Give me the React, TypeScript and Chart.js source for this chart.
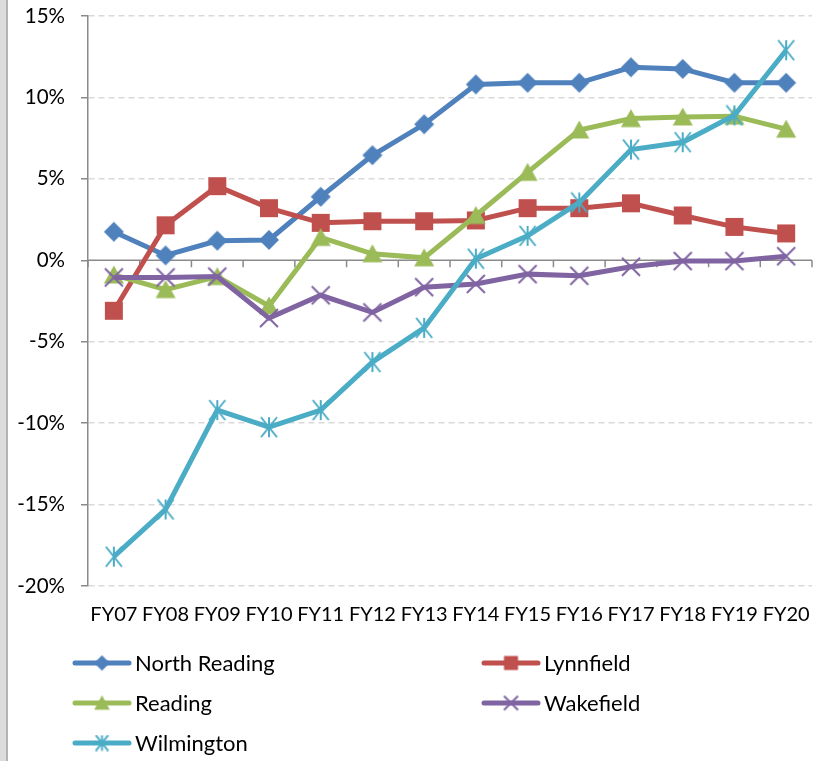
import React, { useEffect, useRef } from "react";
import { Chart, registerables } from "chart.js";

Chart.register(...registerables);

const categories = ["FY07", "FY08", "FY09", "FY10", "FY11", "FY12", "FY13", "FY14", "FY15", "FY16", "FY17", "FY18", "FY19", "FY20"];
const northReading = [1.75, 0.3, 1.2, 1.25, 3.9, 6.45, 8.35, 10.8, 10.9, 10.9, 11.85, 11.75, 10.9, 10.9];
const lynnfield = [-3.1, 2.15, 4.55, 3.2, 2.3, 2.4, 2.4, 2.45, 3.2, 3.2, 3.5, 2.75, 2.05, 1.65];
const reading = [-0.9, -1.8, -1.0, -2.8, 1.4, 0.4, 0.15, 2.75, 5.4, 8.0, 8.7, 8.8, 8.85, 8.05];
const wakefield = [-1.05, -1.05, -1.0, -3.55, -2.15, -3.2, -1.65, -1.45, -0.85, -0.95, -0.4, -0.05, -0.05, 0.25];
const wilmington = [-18.2, -15.3, -9.2, -10.25, -9.2, -6.25, -4.15, 0.1, 1.5, 3.55, 6.8, 7.25, 8.9, 12.9];
const seriesNames = ["North Reading", "Lynnfield", "Reading", "Wakefield", "Wilmington"];
const yTicks = [-20, -15, -10, -5, 0, 5, 10, 15];

const colors = ["#4F81BD", "#C0504D", "#9BBB59", "#8064A2", "#4BACC6"];
const markerTypes = ["diamond", "square", "triangle", "x", "asterisk"];

function makeMarker(type: string, color: string, scale: number): HTMLCanvasElement {
  const c = document.createElement("canvas");
  const s = Math.round(22 * scale);
  c.width = s;
  c.height = s;
  const ctx = c.getContext("2d")!;
  const m = s / 2;
  ctx.fillStyle = color;
  ctx.strokeStyle = color;
  ctx.lineWidth = 2;
  if (type === "diamond") {
    const r = 10 * scale;
    ctx.beginPath();
    ctx.moveTo(m, m - r);
    ctx.lineTo(m + r, m);
    ctx.lineTo(m, m + r);
    ctx.lineTo(m - r, m);
    ctx.closePath();
    ctx.fill();
  } else if (type === "square") {
    const r = 9 * scale;
    ctx.fillRect(m - r, m - r, 2 * r, 2 * r);
  } else if (type === "triangle") {
    const w = 10 * scale;
    const h = 8.5 * scale;
    ctx.beginPath();
    ctx.moveTo(m, m - h - 1);
    ctx.lineTo(m + w, m + h);
    ctx.lineTo(m - w, m + h);
    ctx.closePath();
    ctx.fill();
  } else if (type === "x") {
    const r = 9 * scale;
    ctx.beginPath();
    ctx.moveTo(m - r, m - r);
    ctx.lineTo(m + r, m + r);
    ctx.moveTo(m + r, m - r);
    ctx.lineTo(m - r, m + r);
    ctx.stroke();
  } else {
    const rx = 8 * scale;
    const ry = 10 * scale;
    ctx.beginPath();
    ctx.moveTo(m - rx, m - ry);
    ctx.lineTo(m + rx, m + ry);
    ctx.moveTo(m + rx, m - ry);
    ctx.lineTo(m - rx, m + ry);
    ctx.moveTo(m, m - ry);
    ctx.lineTo(m, m + ry);
    ctx.stroke();
  }
  return c;
}

const FONT = "Lato, 'Open Sans', sans-serif";

export default function App() {
  const ref = useRef<HTMLCanvasElement | null>(null);

  useEffect(() => {
    const canvas = ref.current!;
    const values = [northReading, lynnfield, reading, wakefield, wilmington];
    const pointImgs = markerTypes.map((t, i) => makeMarker(t, colors[i], 1));
    const legendImgs = markerTypes.map((t, i) => makeMarker(t, colors[i], 0.78));

    const zeroAxis = {
      id: "zeroAxis",
      beforeDatasetsDraw(chart: any) {
        const { ctx, chartArea } = chart;
        const y = chart.scales.y.getPixelForValue(0);
        ctx.save();
        ctx.strokeStyle = "#8a8a8a";
        ctx.lineWidth = 1.5;
        ctx.beginPath();
        ctx.moveTo(chartArea.left, y);
        ctx.lineTo(chartArea.right, y);
        const n = categories.length;
        const w = (chartArea.right - chartArea.left) / n;
        for (let i = 0; i <= n; i++) {
          const x = chartArea.left + i * w;
          ctx.moveTo(x, y);
          ctx.lineTo(x, y + 7);
        }
        ctx.stroke();
        ctx.restore();
      },
    };

    const legendPlugin = {
      id: "customLegend",
      afterDraw(chart: any) {
        const { ctx, chartArea } = chart;
        ctx.save();
        ctx.font = `22px ${FONT}`;
        ctx.textBaseline = "middle";
        ctx.fillStyle = "#000";
        seriesNames.forEach((name, i) => {
          const col = i % 2;
          const row = Math.floor(i / 2);
          const x0 = col === 0 ? chartArea.left - 13 : chartArea.left + 396;
          const y = chartArea.bottom + 77 + row * 40;
          ctx.strokeStyle = colors[i];
          ctx.lineWidth = 5;
          ctx.lineCap = "round";
          ctx.beginPath();
          ctx.moveTo(x0, y);
          ctx.lineTo(x0 + 54, y);
          ctx.stroke();
          const img = legendImgs[i];
          ctx.drawImage(img, x0 + 27 - img.width / 2, y - img.height / 2);
          ctx.fillText(name, x0 + 60, y + 1);
        });
        ctx.restore();
      },
    };

    const chart = new Chart(canvas, {
      type: "line",
      data: {
        labels: categories,
        datasets: values.map((v, i) => ({
          label: seriesNames[i],
          data: v,
          borderColor: colors[i],
          backgroundColor: colors[i],
          borderWidth: 5,
          pointStyle: pointImgs[i] as any,
          pointRadius: 10,
          tension: 0,
          order: -i,
          fill: false,
        })),
      },
      options: {
        animation: false,
        responsive: false,
        layout: { padding: { left: 8, top: 16, right: 15, bottom: 130 } },
        plugins: {
          legend: { display: false },
          tooltip: { enabled: false },
        },
        scales: {
          x: {
            type: "category",
            offset: true,
            grid: { display: false, drawTicks: false },
            border: { display: false },
            ticks: {
              font: { family: FONT, size: 20 },
              color: "#000",
              padding: 17,
              maxRotation: 0,
              autoSkip: false,
            },
            afterFit(scale: any) {
              scale.height = 45;
              scale.paddingLeft = 0;
              scale.paddingRight = 0;
            },
          },
          y: {
            min: -20,
            max: 15,
            afterBuildTicks(scale: any) {
              scale.ticks = yTicks.map((v) => ({ value: v }));
            },
            grid: {
              color: (c: any) => (c.tick && c.tick.value === 0 ? "rgba(0,0,0,0)" : "#d9d9d9"),
              lineWidth: 1.5,
              tickColor: "#8a8a8a",
              tickLength: 7,
              tickWidth: 1.5,
              tickBorderDash: [],
            },
            border: { display: true, color: "#8a8a8a", width: 1.5, dash: [6, 4] },
            ticks: {
              font: { family: FONT, size: 20.5 },
              color: "#000",
              padding: 16,
              callback: (v: any) => `${v}%`,
            },
            afterFit(scale: any) {
              scale.width = 80;
              scale.paddingTop = 0;
              scale.paddingBottom = 0;
            },
          },
        },
      },
      plugins: [zeroAxis, legendPlugin],
    });
    return () => chart.destroy();
  }, []);

  return (
    <div style={{ position: "fixed", left: 0, top: 0, width: 827, height: 761, background: "#fff" }}>
      <div style={{ position: "absolute", left: 0, top: 0, width: 6, height: 761, background: "#dcdcdc" }} />
      <div style={{ position: "absolute", left: 6, top: 0, width: 2, height: 761, background: "#b4b4b4" }} />
      <canvas ref={ref} width={827} height={761} style={{ position: "absolute", left: 0, top: 0 }} />
    </div>
  );
}
